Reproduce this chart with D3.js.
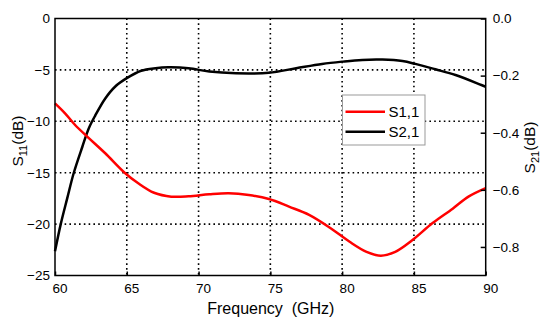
<!DOCTYPE html>
<html lang="en">
<head>
    <meta charset="UTF-8">
    <title>S-parameters</title>
    <script src="https://cdnjs.cloudflare.com/ajax/libs/d3/7.8.5/d3.min.js"></script>
    <style>
        body { margin: 0; background: #fff; }
        text { font-family: Arial, "Liberation Sans", sans-serif; fill: #000; }
    </style>
</head>
<body>

<script>
    var width = 550,
        height = 325;

    // values
    var freqS11 = [60, 60.7, 61.4, 62.3, 63.5, 64.85, 65.8, 66.9, 68.1, 69.3, 70.75, 72.1, 73.5, 74.9,
        76.3, 77.7, 79.2, 80.5, 81.7, 82.7, 83.7, 84.9, 86.3, 87.7, 88.8, 90];
    var s11 = [-8.25, -9.22, -10.36, -11.56, -13.11, -15.0, -16.03, -16.95, -17.33, -17.3, -17.1, -17.0,
        -17.17, -17.56, -18.3, -19.1, -20.4, -21.7, -22.7, -23.07, -22.7, -21.55, -19.9, -18.5, -17.33, -16.5];

    var freqS21 = [60, 60.4, 60.85, 61.3, 61.9, 62.35, 62.8, 63.5, 64.2, 65, 66, 67, 67.9, 69.3, 70.75,
        72.6, 74.9, 76.8, 78.6, 80, 81.4, 82.8, 84.2, 85.1, 86.5, 87.9, 89.7, 90];
    var s21 = [-0.815, -0.720, -0.630, -0.542, -0.450, -0.385, -0.340, -0.280, -0.238, -0.209, -0.183,
        -0.174, -0.171, -0.174, -0.186, -0.192, -0.190, -0.174, -0.159, -0.151, -0.145, -0.144, -0.149,
        -0.159, -0.178, -0.198, -0.233, -0.239];

    var xTicks = [60, 65, 70, 75, 80, 85, 90],
        leftTicks = [0, -5, -10, -15, -20, -25],
        rightTicks = [0, -0.2, -0.4, -0.6, -0.8],
        seriesNames = ["S1,1", "S2,1"],
        seriesColors = ["#ff0000", "#000000"];

    var plotLeft = 55, plotTop = 18.5, plotRight = 485.7, plotBottom = 275.5;

    var svg = d3.select("body").append("svg")
            .attr("width", width)
            .attr("height", height);

    var x = d3.scaleLinear().domain([60, 90]).range([plotLeft, plotRight]),
        yL = d3.scaleLinear().domain([-25, 0]).range([plotBottom, plotTop]),
        yR = d3.scaleLinear().domain([-0.9, 0]).range([plotBottom, plotTop]);

    //dotted grid
    var grid = svg.append("g")
            .attr("stroke", "#000").attr("stroke-width", 1.6)
            .attr("stroke-dasharray", "1.6,3.2");
    grid.selectAll("line.vg").data(xTicks.slice(1, -1))
            .enter().append("line").attr("class", "vg")
            .attr("x1", function (d) { return x(d); }).attr("x2", function (d) { return x(d); })
            .attr("y1", plotTop).attr("y2", plotBottom);
    grid.selectAll("line.hg").data(leftTicks.slice(1, -1))
            .enter().append("line").attr("class", "hg")
            .attr("y1", function (d) { return yL(d); }).attr("y2", function (d) { return yL(d); })
            .attr("x1", plotLeft).attr("x2", plotRight);

    //curves
    var lineS11 = d3.line()
            .x(function (d, i) { return x(freqS11[i]); })
            .y(function (d) { return yL(d); })
            .curve(d3.curveCatmullRom.alpha(0.5));
    var lineS21 = d3.line()
            .x(function (d, i) { return x(freqS21[i]); })
            .y(function (d) { return yR(d); })
            .curve(d3.curveCatmullRom.alpha(0.5));

    var plot = svg.append("g");
    plot.append("path").attr("d", lineS21(s21))
            .attr("fill", "none").attr("stroke", seriesColors[1]).attr("stroke-width", 2.5);
    plot.append("path").attr("d", lineS11(s11))
            .attr("fill", "none").attr("stroke", seriesColors[0]).attr("stroke-width", 2.5);

    //axes
    var xAxis = d3.axisBottom(x).tickValues(xTicks).tickSize(-4).tickPadding(8);
    var gx = svg.append("g").attr("transform", "translate(0," + plotBottom + ")").call(xAxis);
    gx.selectAll("text").attr("dx", 4.5);

    var gl = svg.append("g").attr("transform", "translate(" + plotLeft + ",0)")
            .call(d3.axisLeft(yL).tickValues(leftTicks).tickSize(0).tickPadding(5));

    var gr = svg.append("g").attr("transform", "translate(" + plotRight + ",0)")
            .call(d3.axisRight(yR).tickValues(rightTicks).tickSize(-5).tickPadding(7)
                    .tickFormat(d3.format(".1f")));

    [gx, gl, gr].forEach(function (g) {
        g.select(".domain").remove();
        g.selectAll("line").attr("stroke", "#000").attr("stroke-width", 1.5);
        g.selectAll("text").attr("font-size", 13.5)
                .attr("font-family", "Arial, 'Liberation Sans', sans-serif");
    });
    gr.selectAll("text").text(function (d) { return d === 0 ? "0.0" : d3.format(".1f")(d); });

    svg.append("rect")
            .attr("x", plotLeft).attr("y", plotTop)
            .attr("width", plotRight - plotLeft).attr("height", plotBottom - plotTop)
            .attr("fill", "none").attr("stroke", "#000").attr("stroke-width", 1.5);

    //axis titles
    svg.append("text").attr("x", (plotLeft + plotRight) / 2 + 0.5).attr("y", 314)
            .attr("text-anchor", "middle").attr("font-size", 16)
            .text("Frequency  (GHz)").style("white-space", "pre");

    var tl = svg.append("text").attr("transform", "translate(23,141) rotate(-90)")
            .attr("text-anchor", "middle").attr("font-size", 15.5);
    tl.append("tspan").text("S");
    tl.append("tspan").attr("font-size", 11).attr("dy", 4).text("11");
    tl.append("tspan").attr("dy", -4).text("(dB)");

    var tr = svg.append("text").attr("transform", "translate(535,147.5) rotate(-90)")
            .attr("text-anchor", "middle").attr("font-size", 15.5);
    tr.append("tspan").text("S");
    tr.append("tspan").attr("font-size", 11).attr("dy", 4).text("21");
    tr.append("tspan").attr("dy", -4).text("(dB)");

    //legend
    var lg = svg.append("g").attr("transform", "translate(342.5,95)");
    lg.append("rect").attr("width", 82.5).attr("height", 50)
            .attr("fill", "#fff").attr("stroke", "#999").attr("stroke-width", 1);
    var items = lg.selectAll("g.item").data(seriesNames)
            .enter().append("g").attr("class", "item")
            .attr("transform", function (d, i) { return "translate(0," + (16.7 + i * 20) + ")"; });
    items.append("line").attr("x1", 3).attr("x2", 42.5)
            .attr("stroke", function (d, i) { return seriesColors[i]; }).attr("stroke-width", 2.5);
    items.append("text").attr("x", 46).attr("y", 5.3).attr("font-size", 15)
            .text(function (d) { return d; });
</script>

</body>
</html>
